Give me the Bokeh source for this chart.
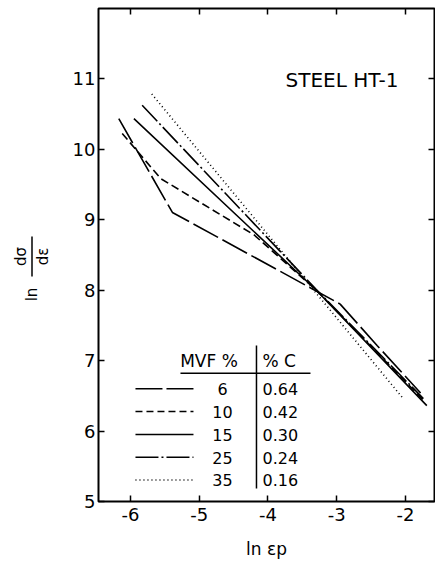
import math
from bokeh.plotting import figure
from bokeh.layouts import row
from bokeh.models import Range1d, FixedTicker, LinearAxis, Label
from bokeh.core.properties import value
from bokeh.embed import file_html
from bokeh.resources import INLINE

# ---- data (ln eps_p , ln dsigma/deps) ----
ep_6 = [-6.17, -5.39, -2.95, -2.41, -1.78]
ds_6 = [10.43, 9.10, 7.80, 7.21, 6.54]
ep_10 = [-6.12, -5.56, -4.20, -3.30, -1.72]
ds_10 = [10.22, 9.58, 8.78, 8.00, 6.42]
ep_15 = [-5.95, -3.30, -1.69]
ds_15 = [10.43, 8.00, 6.36]
ep_25 = [-5.83, -3.30, -1.74]
ds_25 = [10.62, 8.01, 6.46]
ep_35 = [-5.69, -2.05]
ds_35 = [10.78, 6.48]

mvf_pct = ["6", "10", "15", "25", "35"]
carbon_pct = ["0.64", "0.42", "0.30", "0.24", "0.16"]

x_ticks = [-6, -5, -4, -3, -2]
y_ticks = [5, 6, 7, 8, 9, 10, 11]

FONT = "DejaVu Sans"

series = [
    (ep_6, ds_6, "28 5"),
    (ep_10, ds_10, "8 4"),
    (ep_15, ds_15, "solid"),
    (ep_25, ds_25, "22 3 2 3"),
    (ep_35, ds_35, "1 3"),
]
legend_dash = ["27 4", "7 4", "solid", "23 3 2 3", "1 3"]

LEFT_W = 60  # width of the strip holding the rotated y label

p = figure(width=435 - LEFT_W, height=565,
           x_range=Range1d(-6.465, -1.578), y_range=Range1d(5, 11.993),
           output_backend="svg", toolbar_location=None,
           min_border_left=98 - LEFT_W, min_border_right=1, min_border_top=8,
           min_border_bottom=64)
p.background_fill_color = "white"
p.border_fill_color = "white"
p.outline_line_color = "black"
p.outline_line_width = 2
p.xgrid.visible = False
p.ygrid.visible = False

def style_axis(ax, ticks, labels=True):
    ax.ticker = FixedTicker(ticks=ticks)
    ax.axis_line_color = None
    ax.major_tick_in = 6
    ax.major_tick_out = 0
    ax.major_tick_line_width = 1.5
    ax.major_tick_line_color = "black"
    ax.minor_tick_line_color = None
    if labels:
        ax.major_label_text_font = FONT
        ax.major_label_text_font_size = "18px"
        ax.major_label_text_color = "black"
        ax.major_label_overrides = {t: str(t) for t in ticks}
    else:
        ax.major_label_text_font_size = "0px"
        ax.major_label_standoff = 0
        ax.major_label_overrides = {t: "" for t in ticks}

style_axis(p.xaxis[0], x_ticks)
p.xaxis[0].major_label_standoff = 6
p.xaxis[0].axis_label = "ln εp"
p.xaxis[0].axis_label_text_font = FONT
p.xaxis[0].axis_label_text_font_size = "17px"
p.xaxis[0].axis_label_text_font_style = "normal"
p.xaxis[0].axis_label_text_color = "black"
p.xaxis[0].axis_label_standoff = 15

style_axis(p.yaxis[0], y_ticks)
p.yaxis[0].major_label_standoff = 3

top = LinearAxis()
style_axis(top, x_ticks, labels=False)
p.add_layout(top, "above")
right = LinearAxis()
style_axis(right, y_ticks, labels=False)
p.add_layout(right, "right")

# ---- curves ----
for xs, ys, dash in series:
    p.line(xs, ys, line_color="black", line_width=1.6, line_dash=dash)

# ---- page-pixel to data helpers (layout only) ----
def dx(px):
    return -6 + (px - 130) / 68.75

def dy(py):
    return 5 + (501 - py) / 70.5

BASE_FIX = 8  # Label alphabetic baseline renders lower than expected

def lab(x_px, y_px, text, size, align="left"):
    p.add_layout(Label(x=dx(x_px), y=dy(y_px - BASE_FIX), text=text,
                       text_font=FONT, text_font_size=size, text_align=align,
                       text_baseline="alphabetic", text_color="black"))

# ---- title ----
lab(285, 87.5, "STEEL HT-1", "20px")

# ---- legend table ----
lab(208.5, 368.3, "MVF %", "17px", "center")
lab(262, 368.3, "% C", "17px")
p.line([dx(180), dx(310)], [dy(372.7), dy(372.7)], line_color="black", line_width=1.5)
p.line([dx(256), dx(256)], [dy(345), dy(488)], line_color="black", line_width=1.5)

row_dy = 22.8
for i, (m, c) in enumerate(zip(mvf_pct, carbon_pct)):
    ly = 388.3 + i * row_dy
    p.line([dx(135), dx(193)], [dy(ly), dy(ly)], line_color="black",
           line_width=1.5, line_dash=legend_dash[i])
    lab(222, ly + 8.4, m, "16px", "center")
    lab(262, ly + 8.4, c, "16px")

# ---- y axis label strip: ln dσ/dε (rotated fraction) ----
q = figure(title=None, frame_width=LEFT_W, frame_height=565,
           x_range=Range1d(0, LEFT_W), y_range=Range1d(0, 565),
           output_backend="svg", toolbar_location=None,
           x_axis_type=None, y_axis_type=None,
           min_border_left=0, min_border_right=0, min_border_top=0,
           min_border_bottom=0)
q.outline_line_color = None
q.xgrid.visible = False
q.ygrid.visible = False
q.background_fill_color = "white"
q.border_fill_color = "white"

def qy(py):
    return 565 - py

q.text(x=[31, 20, 42], y=[qy(286), qy(248), qy(248)], text=["ln", "dσ", "dε"],
       angle=math.pi / 2, text_font=value(FONT),
       text_font_size=value("15px"), text_color="black",
       text_align="center", text_baseline="middle")
q.line([31.5, 31.5], [qy(228), qy(268)], line_color="black", line_width=1.5)

layout = row(q, p, spacing=0)
open("out.html", "w").write(file_html(layout, INLINE))
